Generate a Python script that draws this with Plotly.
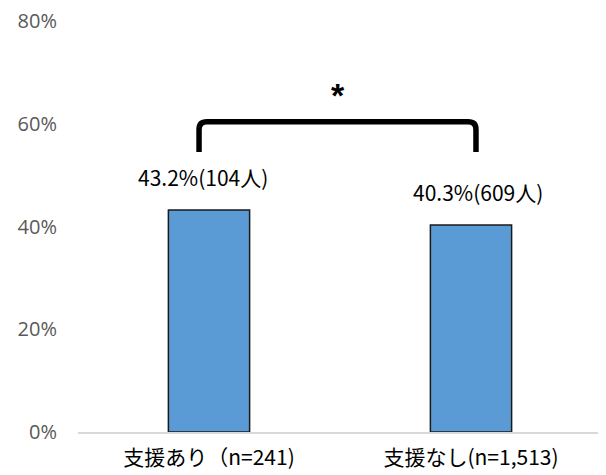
import plotly.graph_objects as go

categories = ["支援あり（n=241)", "支援なし(n=1,513)"]
values = [0.432, 0.403]
counts = [104, 609]
tick_vals = [0, 0.2, 0.4, 0.6, 0.8]
tick_text = ["0%", "20%", "40%", "60%", "80%"]

labels = [f"{v*100:.1f}%({c}人)" for v, c in zip(values, counts)]
label_xshift = [-6, 7]

fig = go.Figure()
fig.add_trace(go.Bar(
    x=[0, 1], y=values, width=0.31,
    marker=dict(color="#5B9BD5", line=dict(color="#1a1a1a", width=1.5)),
))

for i, (v, lab) in enumerate(zip(values, labels)):
    fig.add_annotation(x=i, y=v, xref="x", yref="y", text=lab, showarrow=False,
                       yshift=33, xshift=label_xshift[i],
                       font=dict(family="Noto Sans CJK JP", size=21, color="#000000"))

# significance bracket
bx0, bx1 = -0.038, 1.019
yb, yt = 0.545, 0.604
rx, ry = 0.03, 0.015
path = (f"M {bx0},{yb} L {bx0},{yt - ry} Q {bx0},{yt} {bx0 + rx},{yt} "
        f"L {bx1 - rx},{yt} Q {bx1},{yt} {bx1},{yt - ry} L {bx1},{yb}")
fig.add_shape(type="path", path=path, xref="x", yref="y",
              line=dict(color="#000000", width=5.5))
fig.add_annotation(x=(bx0 + bx1) / 2, y=0.655, xref="x", yref="y", text="<b>*</b>",
                   showarrow=False, font=dict(family="Liberation Sans", size=34, color="#000000"))

fig.update_layout(
    width=606, height=475,
    margin=dict(l=70, r=12, t=13, b=51),
    plot_bgcolor="white", paper_bgcolor="white",
    showlegend=False,
    xaxis=dict(range=[-0.5, 1.5], tickvals=[0, 1], ticktext=categories,
               showline=True, linecolor="#d9d9d9", linewidth=1.5, showgrid=False,
               zeroline=False, ticks="", automargin=False, ticklabelstandoff=6,
               ticklabeloverflow="allow",
               tickfont=dict(family="Noto Sans CJK JP", size=21, color="#000000")),
    yaxis=dict(range=[0, 0.8], tickvals=tick_vals, ticktext=tick_text,
               showgrid=False, zeroline=False, showline=False, ticks="",
               automargin=False, ticklabelstandoff=20, ticklabeloverflow="allow",
               tickfont=dict(family="Open Sans", size=20, color="#595959")),
)

fig.write_html("out.html")
